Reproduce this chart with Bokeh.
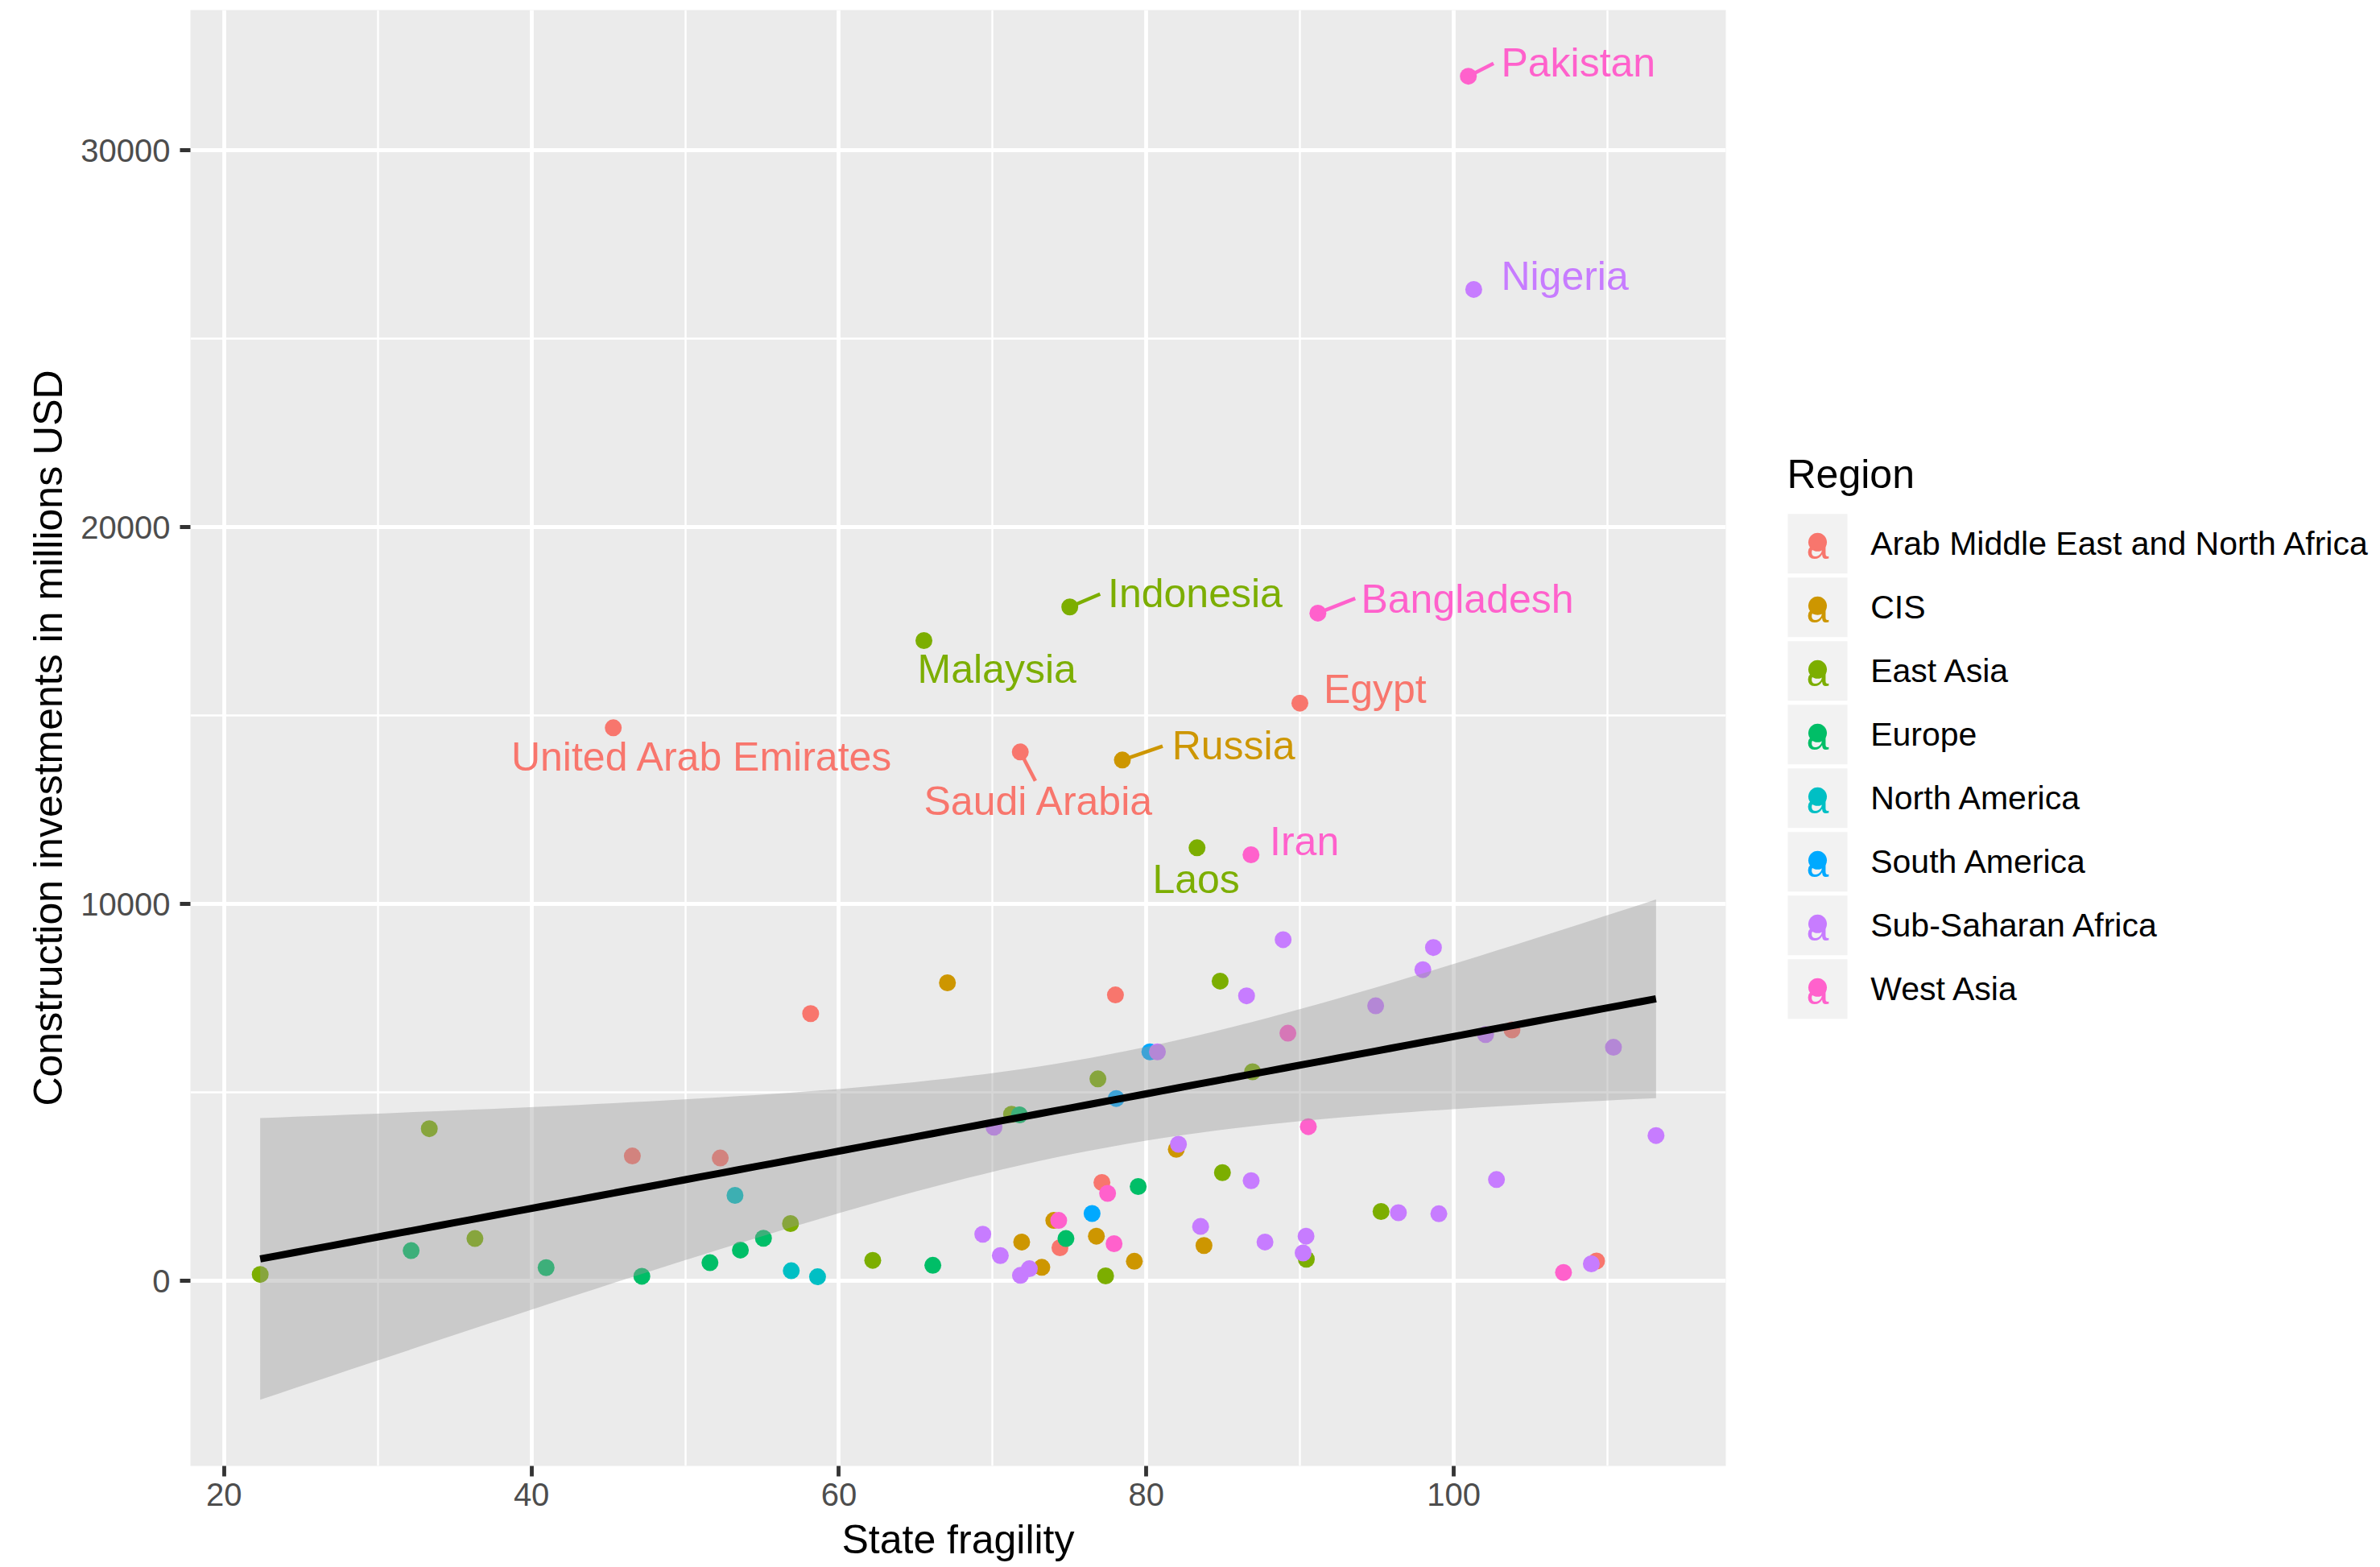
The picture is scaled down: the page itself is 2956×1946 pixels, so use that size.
import numpy as np
from bokeh.plotting import figure
from bokeh.models import Range1d, FixedTicker, BasicTickFormatter
from bokeh.layouts import row
from bokeh.embed import file_html
from bokeh.resources import INLINE
from bokeh.core.properties import value

FONT = "Liberation Sans"

# ---------------- data ----------------
regions = ["Arab Middle East and North Africa", "CIS", "East Asia", "Europe",
           "North America", "South America", "Sub-Saharan Africa", "West Asia"]
region_colors = ["#F8766D", "#CD9600", "#7CAE00", "#00BE67",
                 "#00BFC4", "#00A9FF", "#C77CFF", "#FF61CC"]

arab_x = [45.32, 46.56, 52.28, 58.16, 71.8, 74.38, 77.11, 77.99, 89.99, 103.79, 109.29]
arab_y = [14676, 3313, 3259, 7091, 14035, 878, 2610, 7587, 15331, 6656, 526]
cis_x = [67.06, 71.89, 73.2, 73.98, 76.75, 78.44, 79.22, 81.95, 83.75]
cis_y = [7908, 1030, 359, 1603, 1184, 13821, 519, 3488, 938]
east_asia_x = [22.35, 33.35, 36.32, 56.85, 62.2, 65.53, 71.23, 75.02, 76.85, 77.35,
               83.3, 84.8, 84.95, 86.91, 90.41, 95.27]
east_asia_y = [169, 4037, 1122, 1520, 543, 16991, 4420, 17882, 5358, 130,
               11491, 7953, 2870, 5548, 573, 1840]
europe_x = [32.17, 40.95, 47.18, 51.61, 53.59, 55.09, 66.11, 71.74, 74.77, 79.47]
europe_y = [801, 350, 122, 481, 816, 1130, 412, 4405, 1122, 2503]
north_am_x = [53.24, 56.9, 58.61]
north_am_y = [2268, 267, 107]
south_am_x = [76.47, 78.04, 80.23]
south_am_y = [1787, 4839, 6076]
ssa_x = [69.36, 70.09, 70.5, 71.81, 72.39, 80.72, 82.09, 83.53, 86.52, 86.82,
         87.72, 88.9, 90.2, 90.39, 94.92, 96.4, 97.99, 98.68, 99.03, 101.3,
         102.07, 102.78, 108.95, 110.39, 113.16]
ssa_y = [1237, 4076, 671, 145, 321, 6076, 3625, 1442, 7563, 2657,
         1030, 9053, 739, 1184, 7297, 1808, 8258, 8846, 1779, 26309,
         6534, 2687, 451, 6198, 3856]
west_asia_x = [74.3, 77.48, 77.9, 86.81, 89.21, 90.54, 91.16, 100.95, 107.14]
west_asia_y = [1603, 2321, 985, 11306, 6572, 4091, 17718, 31966, 222]

xs_by_region = [arab_x, cis_x, east_asia_x, europe_x, north_am_x, south_am_x, ssa_x, west_asia_x]
ys_by_region = [arab_y, cis_y, east_asia_y, europe_y, north_am_y, south_am_y, ssa_y, west_asia_y]

# labelled countries: (region index, index of the point in that region)
label_names = ["Pakistan", "Nigeria", "Indonesia", "Bangladesh", "Malaysia", "Egypt",
               "United Arab Emirates", "Saudi Arabia", "Russia", "Laos", "Iran"]
label_region = [7, 6, 2, 7, 2, 0, 0, 0, 1, 2, 7]
label_point = [7, 19, 7, 6, 5, 8, 0, 4, 5, 10, 3]
label_text_x = [103.08, 103.08, 77.5, 93.97, 65.11, 91.53, 38.68, 65.53, 81.67, 80.4, 88.03]
label_text_y = [31966, 26288, 17882, 17718, 15865, 15331, 13550, 12360, 13835, 10295, 11291]
seg_end_x = [102.59, None, 76.99, 93.59, None, None, None, 72.78, 81.06, None, None]
seg_end_y = [32308, None, 18224, 18109, None, None, None, 13266, 14191, None, None]

x_ticks = [20, 40, 60, 80, 100]
x_minor = [30, 50, 70, 90, 110]
y_ticks = [0, 10000, 20000, 30000]
y_minor = [5000, 15000, 25000]

# ---------------- linear fit (geom_smooth, method = lm) ----------------
all_x = np.concatenate([np.asarray(v, float) for v in xs_by_region])
all_y = np.concatenate([np.asarray(v, float) for v in ys_by_region])
n = len(all_x)
b1, b0 = np.polyfit(all_x, all_y, 1)
res = all_y - (b0 + b1 * all_x)
s = np.sqrt(np.sum(res ** 2) / (n - 2))
xbar = all_x.mean()
sxx = np.sum((all_x - xbar) ** 2)
T975 = 1.9886
grid = np.linspace(all_x.min(), all_x.max(), 80)
fit = b0 + b1 * grid
se = s * np.sqrt(1.0 / n + (grid - xbar) ** 2 / sxx)
upper = fit + T975 * se
lower = fit - T975 * se

xlo, xhi = all_x.min(), all_x.max()
ylo, yhi = min(all_y.min(), lower.min()), max(all_y.max(), upper.max())
xpad = 0.05 * (xhi - xlo)
ypad = 0.05 * (yhi - ylo)

# ---------------- page layout (pixels) ----------------
H = 1944
MAIN_W = 2150
FRAME_L, FRAME_R, FRAME_T, FRAME_B = 236, 2143, 12, 1820
LEG_W = 798

# ---------------- main plot ----------------
p = figure(width=MAIN_W, height=H,
           x_range=Range1d(xlo - xpad, xhi + xpad),
           y_range=Range1d(ylo - ypad, yhi + ypad),
           output_backend="svg", toolbar_location=None, title=None,
           min_border_left=FRAME_L, min_border_right=MAIN_W - FRAME_R,
           min_border_top=FRAME_T, min_border_bottom=H - FRAME_B)
p.background_fill_color = "#EBEBEB"
p.border_fill_color = "white"
p.outline_line_color = None

xt = FixedTicker(ticks=x_ticks, minor_ticks=x_minor)
yt = FixedTicker(ticks=y_ticks, minor_ticks=y_minor)
p.xaxis.ticker = xt
p.yaxis.ticker = yt
p.xgrid.ticker = xt
p.ygrid.ticker = yt
p.yaxis.formatter = BasicTickFormatter(use_scientific=False)
for g in (p.xgrid, p.ygrid):
    g.grid_line_color = "white"
    g.grid_line_width = 4.8
    g.minor_grid_line_color = "white"
    g.minor_grid_line_width = 2.4
for ax in (p.xaxis, p.yaxis):
    ax.axis_line_color = None
    ax.major_tick_line_color = "#333333"
    ax.major_tick_line_width = 4.8
    ax.major_tick_out = 13
    ax.major_tick_in = 0
    ax.minor_tick_out = 0
    ax.minor_tick_in = 0
    ax.major_label_text_font = FONT
    ax.major_label_text_font_size = "40px"
    ax.major_label_text_color = "#4D4D4D"
    ax.axis_label_text_font = FONT
    ax.axis_label_text_font_size = "50px"
    ax.axis_label_text_font_style = "normal"
    ax.axis_label_text_color = "black"
p.xaxis.axis_label = "State fragility"
p.yaxis.axis_label = "Construction investments in millions USD"
p.xaxis.major_label_standoff = 8
p.xaxis.axis_label_standoff = 11
p.yaxis.major_label_standoff = 12
p.yaxis.axis_label_standoff = 9

for xs, ys, c in zip(xs_by_region, ys_by_region, region_colors):
    p.scatter(xs, ys, size=21, fill_color=c, line_color=None)

p.varea(x=grid, y1=lower, y2=upper, fill_color="#999999", fill_alpha=0.4)
p.line(grid, fit, line_color="black", line_width=9)

sx0, sy0, sx1, sy1, sc = [], [], [], [], []
for r, i, ex, ey in zip(label_region, label_point, seg_end_x, seg_end_y):
    if ex is None:
        continue
    sx0.append(xs_by_region[r][i]); sy0.append(ys_by_region[r][i])
    sx1.append(ex); sy1.append(ey); sc.append(region_colors[r])
p.segment(x0=sx0, y0=sy0, x1=sx1, y1=sy1, line_color=sc, line_width=4.5)

p.text(x=label_text_x, y=label_text_y, text=label_names,
       text_color=[region_colors[r] for r in label_region],
       text_font=value(FONT), text_font_size="50px",
       text_align="left", text_baseline="alphabetic", y_offset=-17)

# ---------------- legend panel (coordinates = page pixels) ----------------
lg = figure(width=LEG_W, height=H,
            x_range=Range1d(MAIN_W, MAIN_W + LEG_W), y_range=Range1d(FRAME_B, FRAME_T),
            output_backend="svg", toolbar_location=None, title=None,
            x_axis_type=None, y_axis_type=None,
            min_border_left=0, min_border_right=0,
            min_border_top=FRAME_T, min_border_bottom=H - FRAME_B)
lg.outline_line_color = None
lg.background_fill_color = "white"
lg.border_fill_color = "white"
lg.grid.visible = False

key_left, key_size, key_pitch, first_key_top = 2220, 74, 79, 637.8
idx = np.arange(len(regions))
key_cy = first_key_top + key_size / 2 + key_pitch * idx
key_cx = np.full(len(regions), key_left + key_size / 2)

lg.text(x=[2219], y=[606], text=["Region"], text_color="black",
        text_font=value(FONT), text_font_size="50px",
        text_align="left", text_baseline="alphabetic", y_offset=-18)
lg.rect(x=key_cx, y=key_cy, width=key_size, height=key_size,
        fill_color="#F2F2F2", line_color=None)
lg.text(x=key_cx, y=key_cy + 19, text=["a"] * len(regions), text_color=region_colors,
        text_font=value(FONT), text_font_size="50px",
        text_align="center", text_baseline="alphabetic", y_offset=-17)
lg.scatter(x=key_cx, y=key_cy - 2, size=23, fill_color=region_colors, line_color=None)
lg.text(x=np.full(len(regions), 2322.7), y=key_cy + 15, text=regions, text_color="black",
        text_font=value(FONT), text_font_size="41px",
        text_align="left", text_baseline="alphabetic", y_offset=-15)

layout = row(p, lg)
open("out.html", "w").write(file_html(layout, INLINE))
